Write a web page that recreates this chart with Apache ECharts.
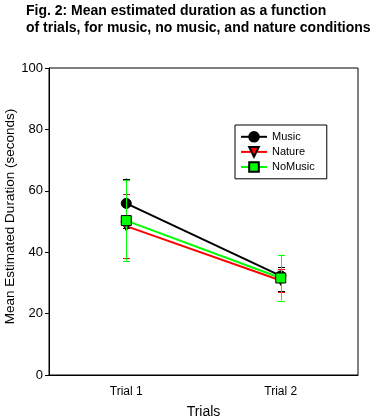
<!DOCTYPE html>
<html>
<head>
<meta charset="utf-8">
<script src="https://cdn.jsdelivr.net/npm/echarts@6/dist/echarts.min.js"></script>
<style>html,body{margin:0;padding:0;background:#fff}#c{width:376px;height:420px}</style>
</head>
<body>
<div id="c"></div>
<script>
const categories = ['Trial 1', 'Trial 2'];
const seriesNames = ['Music', 'Nature', 'NoMusic'];
const musicMean = [55.9, 32.3];
const musicLow = [47.8, 27.5];
const musicHigh = [64.0, 35.1];
const natureMean = [48.5, 30.8];
const natureLow = [38.0, 26.9];
const natureHigh = [58.9, 34.6];
const noMusicMean = [50.3, 31.6];
const noMusicLow = [37.2, 24.2];
const noMusicHigh = [63.4, 39.2];
const yTicks = [0, 20, 40, 60, 80, 100];

const FONT = '"Liberation Sans", Arial, sans-serif';
const colors = ['#000000', '#ff0000', '#00ff00'];
const symbols = ['circle', 'triangle', 'rect'];
const means = [musicMean, natureMean, noMusicMean];
const lows = [musicLow, natureLow, noMusicLow];
const highs = [musicHigh, natureHigh, noMusicHigh];

function errSeries(i) {
  return {
    name: seriesNames[i] + ' err',
    type: 'custom',
    z: 2 + i,
    data: categories.map((c, k) => [k, lows[i][k], highs[i][k]]),
    renderItem: function (params, api) {
      const lo = api.coord([api.value(0), api.value(1)]);
      const hi = api.coord([api.value(0), api.value(2)]);
      const x = Math.round(lo[0]) + 0.5;
      const hw = 3.5;
      const st = { stroke: colors[i], lineWidth: 1 };
      return {
        type: 'group',
        children: [
          { type: 'line', shape: { x1: x, y1: lo[1], x2: x, y2: hi[1] }, style: st },
          { type: 'line', shape: { x1: x - hw, y1: Math.round(lo[1]) + 0.5, x2: x + hw, y2: Math.round(lo[1]) + 0.5 }, style: st },
          { type: 'line', shape: { x1: x - hw, y1: Math.round(hi[1]) + 0.5, x2: x + hw, y2: Math.round(hi[1]) + 0.5 }, style: st }
        ]
      };
    }
  };
}

function lineSeries(i) {
  return {
    name: seriesNames[i],
    type: 'line',
    z: 2 + i,
    data: means[i],
    symbol: symbols[i],
    symbolSize: i === 1 ? [10, 9] : 10,
    symbolRotate: i === 1 ? 180 : 0,
    showAllSymbol: true,
    lineStyle: { color: colors[i], width: 2 },
    itemStyle: { color: colors[i], borderColor: '#000', borderWidth: 1 },
    emphasis: { disabled: true },
    animation: false
  };
}

const chart = echarts.init(document.getElementById('c'), null, { renderer: 'canvas' });
chart.setOption({
  animation: false,
  backgroundColor: '#fff',
  textStyle: { fontFamily: FONT },
  title: {
    text: 'Fig. 2: Mean estimated duration as a function\nof trials, for music, no music, and nature conditions',
    left: 26,
    top: 3,
    padding: 0,
    textStyle: { fontFamily: FONT, fontSize: 14, fontWeight: 'bold', color: '#000', lineHeight: 17 }
  },
  grid: {
    left: 49, top: 68, right: 18, bottom: 45,
    outerBoundsMode: 'none',
    containLabel: false,
    show: true, borderColor: '#000', borderWidth: 1, backgroundColor: 'transparent'
  },
  legend: {
    orient: 'vertical',
    left: 235, top: 125,
    padding: [6, 12, 6, 5],
    itemWidth: 26, itemHeight: 12, itemGap: 3.5,
    borderColor: '#000', borderWidth: 1,
    backgroundColor: '#fff',
    data: seriesNames,
    selectedMode: false,
    textStyle: { fontFamily: FONT, fontSize: 11, color: '#000', padding: [0, 0, 0, 0] }
  },
  xAxis: {
    type: 'category',
    data: categories,
    boundaryGap: true,
    name: 'Trials',
    nameLocation: 'middle',
    nameGap: 30,
    nameTextStyle: { fontFamily: FONT, fontSize: 14, color: '#000' },
    axisLine: { lineStyle: { color: '#000', width: 1 } },
    axisTick: { alignWithLabel: true, length: 4, lineStyle: { color: '#000' } },
    axisLabel: { fontFamily: FONT, fontSize: 12, color: '#000', margin: 11 },
    splitLine: { show: false }
  },
  yAxis: {
    type: 'value',
    min: yTicks[0], max: yTicks[yTicks.length - 1], interval: 20,
    name: 'Mean Estimated Duration (seconds)',
    nameLocation: 'middle',
    nameMoveOverlap: false,
    nameGap: 32,
    nameTextStyle: { fontFamily: FONT, fontSize: 13.5, color: '#000', padding: [0, 0, 0, 10] },
    axisLine: { show: true, lineStyle: { color: '#000', width: 1 } },
    axisTick: { show: true, length: 4, lineStyle: { color: '#000' } },
    axisLabel: { fontFamily: FONT, fontSize: 13, color: '#000', margin: 6 },
    splitLine: { show: false }
  },
  series: [errSeries(0), errSeries(1), errSeries(2), lineSeries(0), lineSeries(1), lineSeries(2)]
});
</script>
</body>
</html>
